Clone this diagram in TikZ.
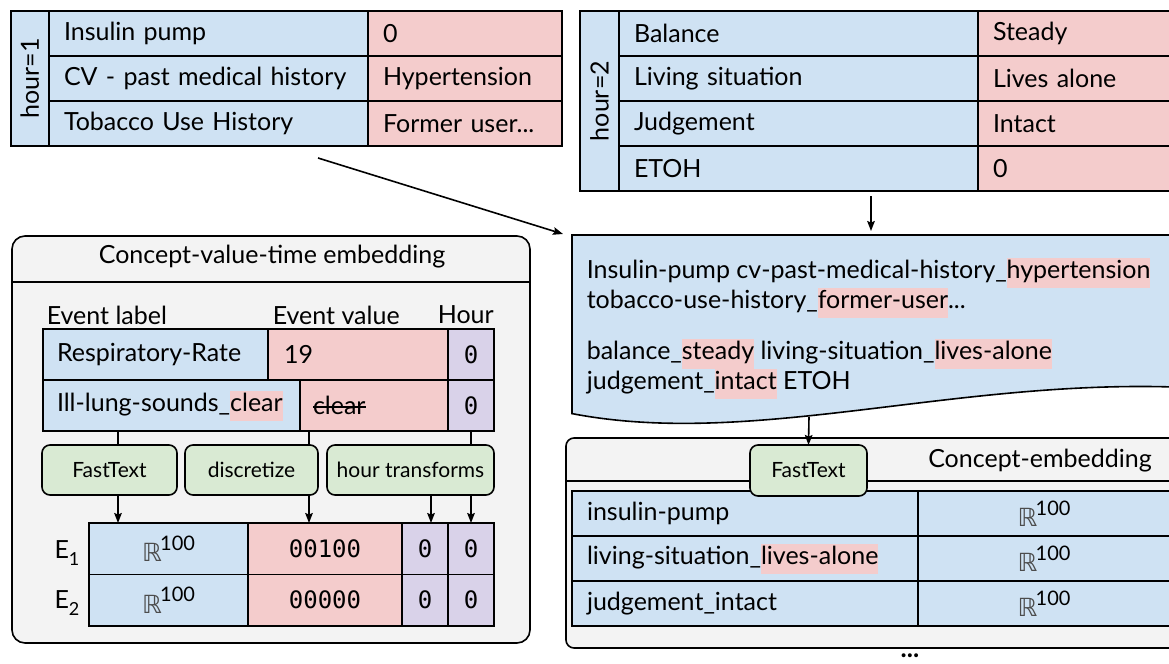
\documentclass[tikz,border=0pt]{standalone}
\usepackage{fontspec}
\setmainfont{Lato}
\newfontfamily\monofont{DejaVu Sans Mono}
\newfontfamily\symfont{DejaVu Sans}
\usepackage{tikz}
\usetikzlibrary{arrows.meta}
\usetikzlibrary{calc}
\usetikzlibrary{positioning}

\definecolor{bluec}{RGB}{207,226,243}
\definecolor{pinkc}{RGB}{244,204,204}
\definecolor{purpc}{RGB}{217,210,233}
\definecolor{greenc}{RGB}{217,234,211}
\definecolor{grayc}{RGB}{243,243,243}

\newcommand{\bodyfont}{\fontsize{12.5}{15}\selectfont}
\newcommand{\smallfnt}{\fontsize{10.5}{12}\selectfont}
\newcommand{\hl}[1]{{\setlength{\fboxsep}{0pt}\colorbox{pinkc}{\strut #1}}}
\newcommand{\vecR}{{\symfont\color{black!70}ℝ}\kern-0.8pt\raisebox{0.45em}{\fontsize{10}{10}\selectfont 100}}
\newcommand{\esub}[1]{E\raisebox{-3.5pt}{\fontsize{9}{9}\selectfont #1}}
\newcommand{\mono}[1]{{\monofont\fontsize{12}{14}\selectfont #1}}
\newsavebox{\strikebox}
\newcommand{\strike}[1]{\sbox{\strikebox}{#1}\rlap{\rule[0.27em]{\wd\strikebox}{0.9pt}}\usebox{\strikebox}}

\begin{document}
\begin{tikzpicture}[x=0.5pt,y=-0.5pt,line width=0.8pt,
  >={Stealth[length=5pt,width=3.8pt,inset=0.8pt]},
  every node/.style={font=\bodyfont}]
		\tikzstyle{cellbase}=[draw, inner ysep=0pt, inner xsep=7.5pt, outer sep=0pt, minimum height=22.5pt]
		\tikzstyle{lcell}=[cellbase, fill=bluec, align=left]
		\tikzstyle{vcell}=[cellbase, fill=pinkc, align=left]
		\tikzstyle{hcell}=[draw, fill=purpc, inner sep=0pt, outer sep=0pt, minimum width=23pt, minimum height=25.5pt]
		\tikzstyle{hourcell}=[draw, fill=bluec, rotate=90, inner sep=0pt, outer sep=0pt]
		\tikzstyle{ecell}=[draw, inner sep=0pt, outer sep=0pt, minimum height=25.75pt]
		\tikzstyle{green}=[draw, fill=greenc, rounded corners=4pt, inner sep=0pt, outer sep=0pt, minimum height=25pt, font=\smallfnt]
		\tikzstyle{frame}=[draw, fill=grayc, inner sep=0pt, outer sep=0pt, anchor=north west]
		\useasboundingbox (0,0) rectangle (1169,664);
		\clip (0,0) rectangle (1169,664);

		% hour 1 table
			\node[hourcell, minimum width=67.5pt, minimum height=19.15pt] (hA) at (29.85,78.5) {hour=1};
			\node[lcell, text width=144.5pt, anchor=north west] (a1) at (49,11) {Insulin pump};
			\node[lcell, text width=144.5pt, below=0pt of a1] (a2) {CV - past medical history};
			\node[lcell, text width=144.5pt, below=0pt of a2] (a3) {Tobacco Use History};
			\node[vcell, text width=82pt, right=0pt of a1] (av1) {0};
			\node[vcell, text width=82pt, right=0pt of a2] (av2) {Hypertension};
			\node[vcell, text width=82pt, right=0pt of a3] (av3) {Former user...};

		% hour 2 table
			\node[hourcell, minimum width=90pt, minimum height=19.5pt] (hB) at (599.5,101) {hour=2};
			\node[lcell, text width=164.5pt, anchor=north west] (b1) at (619,11) {Balance};
			\node[lcell, text width=164.5pt, below=0pt of b1] (b2) {Living situation};
			\node[lcell, text width=164.5pt, below=0pt of b2] (b3) {Judgement};
			\node[lcell, text width=164.5pt, below=0pt of b3] (b4) {ETOH};
			\node[vcell, text width=81pt, right=0pt of b1] (bv1) {Steady};
			\node[vcell, text width=81pt, right=0pt of b2] (bv2) {Lives alone};
			\node[vcell, text width=81pt, right=0pt of b3] (bv3) {Intact};
			\node[vcell, text width=81pt, right=0pt of b4] (bv4) {0};

		% document
			\node[inner sep=0pt, minimum width=300pt, minimum height=88.5pt, anchor=north west] (doc) at (572,235) {};
			\draw[fill=bluec] (doc.north west) -- (doc.north east) -- (doc.east |- 0,387)
				.. controls (950,380) and (750,448) .. (doc.south west) -- cycle;
			\node[anchor=north west, inner sep=0pt, align=left] (doctxt) at (586,257)
				{Insulin-pump cv-past-medical-history\_\hl{hypertension}\\
				 tobacco-use-history\_\hl{former-user}...\\[10.5pt]
				 balance\_\hl{steady} living-situation\_\hl{lives-alone}\\
				 judgement\_\hl{intact} ETOH};
			\coordinate (src) at (318,158);
			\coordinate (docbot) at (809,417);
			\draw[->] (src) -- ([shift={(-4.5pt,0.5pt)}]doc.north west);
			\draw[->, shorten <=2.5pt, shorten >=2pt] (b4.south -| 871,0) -- (doc.north -| 871,0);

		% concept embedding
			\node[frame, rounded corners=4pt, minimum width=317pt, minimum height=105pt] (ce) at (566,438) {};
			\draw (ce.west |- 0,481) -- (ce.east |- 0,481);
			\node (cetitle) at (1040,461) {Concept-embedding};
			\node[lcell, text width=158pt, anchor=north west] (c1) at (572,491) {insulin-pump};
			\node[lcell, text width=158pt, below=0pt of c1] (c2) {living-situation\_\hl{lives-alone}};
			\node[lcell, text width=158pt, below=0pt of c2] (c3) {judgement\_intact};
			\node[cellbase, fill=bluec, minimum width=126pt, right=0pt of c1] (cv1) {\vecR};
			\node[cellbase, fill=bluec, minimum width=126pt, right=0pt of c2] (cv2) {\vecR};
			\node[cellbase, fill=bluec, minimum width=126pt, right=0pt of c3] (cv3) {\vecR};
			\node[green, minimum width=58.5pt, minimum height=25.5pt] (ftr) at (808.5,470.5) {FastText};
			\draw[->] (docbot) -- (ftr.north);
			\node[font=\bfseries\fontsize{13}{13}\selectfont, inner sep=0pt] (more) at (910,656) {...};

		% concept-value-time embedding
			\node[frame, rounded corners=6.5pt, minimum width=259pt, minimum height=203.5pt] (cvt) at (12,236) {};
			\draw (cvt.west |- 0,282) -- (cvt.east |- 0,282);
			\node (cvttitle) at (272,257) {Concept-value-time embedding};
			\node[anchor=west, inner sep=0pt] (hdlab) at (46,315) {Event label};
			\node[anchor=west, inner sep=0pt] (hdval) at (272,315) {Event value};
			\node[anchor=west, inner sep=0pt] (hdhr) at (437,315) {Hour};

			\node[lcell, inner xsep=7pt, text width=98.5pt, minimum height=25.5pt, anchor=north west] (r1a) at (43,329) {Respiratory-Rate};
			\node[vcell, inner xsep=8pt, text width=74pt, minimum height=25.5pt, right=0pt of r1a] (r1b) {19};
			\node[hcell, right=0pt of r1b] (r1c) {\mono{0}};
			\node[lcell, inner xsep=7pt, text width=114.5pt, minimum height=25.5pt, anchor=north west] (r2a) at (r1a.south west) {Ill-lung-sounds\_\hl{clear}};
			\node[vcell, inner xsep=6.5pt, text width=61pt, minimum height=25.5pt, right=0pt of r2a] (r2b) {\strike{clear}};
			\node[hcell, right=0pt of r2b] (r2c) {\mono{0}};

			\node[green, minimum width=67.5pt, anchor=north west] (ftl) at (42,445) {FastText};
			\node[green, minimum width=66.5pt, anchor=north west] (disc) at (185,445) {discretize};
			\node[green, minimum width=83.5pt, anchor=north west] (hrt) at (327,445) {hour transforms};

			\node[ecell, fill=bluec, minimum width=79.5pt, anchor=north west] (e1a) at (89,523) {\vecR};
			\node[ecell, fill=pinkc, minimum width=77pt, right=0pt of e1a] (e1b) {\mono{00100}};
			\node[ecell, fill=purpc, minimum width=23pt, right=0pt of e1b] (e1c) {\mono{0}};
			\node[ecell, fill=purpc, minimum width=23pt, right=0pt of e1c] (e1d) {\mono{0}};
			\node[ecell, fill=bluec, minimum width=79.5pt, anchor=north west] (e2a) at (e1a.south west) {\vecR};
			\node[ecell, fill=pinkc, minimum width=77pt, right=0pt of e2a] (e2b) {\mono{00000}};
			\node[ecell, fill=purpc, minimum width=23pt, right=0pt of e2b] (e2c) {\mono{0}};
			\node[ecell, fill=purpc, minimum width=23pt, right=0pt of e2c] (e2d) {\mono{0}};
			\node (E1) at (67,553) {\esub{1}};
			\node (E2) at (67,603) {\esub{2}};

			\draw (r2a.south -| 118,0) -- (ftl.north -| 118,0);
			\draw (r2b.south -| 309,0) -- (disc.north -| 309,0);
			\draw (r2c.south) -- (hrt.north -| r2c.south);
			\draw[->] (ftl.south -| 118,0) -- (e1a.north -| 118,0);
			\draw[->] (disc.south -| 309,0) -- (e1b.north -| 309,0);
			\draw[->] (hrt.south -| 431,0) -- (e1c.north -| 431,0);
			\draw[->] (hrt.south -| e1d.north) -- (e1d.north);
\end{tikzpicture}
\end{document}
